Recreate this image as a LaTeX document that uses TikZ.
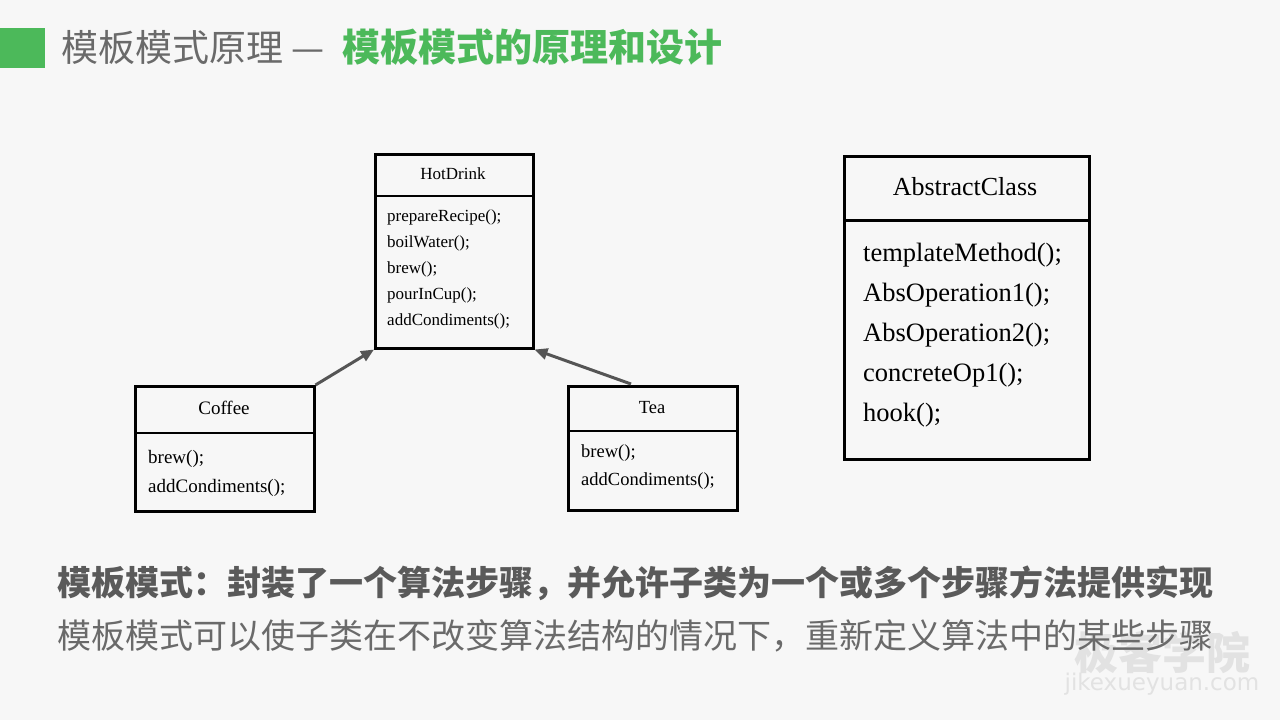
\documentclass[tikz,border=0pt]{standalone}
\usepackage{fontspec}
\setmainfont{Liberation Serif}
\newfontfamily\cjk{Noto Sans CJK SC}
\newfontfamily\wmfont{DejaVu Sans}
\usetikzlibrary{arrows.meta}
\definecolor{bg}{HTML}{F7F7F7}
\definecolor{brand}{HTML}{4CB95A}
\definecolor{titlegray}{HTML}{6A6A6A}
\definecolor{textgray}{HTML}{5A5A5A}
\definecolor{arrowgray}{HTML}{555555}
\definecolor{wmgray}{HTML}{E2E2E2}
\begin{document}
\begin{tikzpicture}[x=1pt,y=-1pt,
  umlbox/.style={draw=black, line width=2.5pt, anchor=north west, inner sep=0pt},
  divider/.style={draw=black, line width=2.5pt},
  member/.style={anchor=base west, inner sep=0pt},
  classname/.style={anchor=base, inner sep=0pt},
  inherit/.style={draw=arrowgray, line width=3pt, -{Triangle[length=13pt,width=11pt]}},
  wmtext/.style={inner sep=0pt, text=wmgray}
]
\useasboundingbox (0,0) rectangle (1280,720);
\fill[bg] (0,0) rectangle (1280,720);

% title
\fill[brand] (0,28) rectangle (45,68);
\node[anchor=west, inner sep=0pt, text=titlegray, font=\cjk\fontsize{37}{40}\selectfont] (t1) at (61,47) {模板模式原理 —};
\node[anchor=west, inner sep=0pt, text=brand, font=\cjk\bfseries\fontsize{38}{40}\selectfont] (t2) at (342,47) {模板模式的原理和设计};

% HotDrink
\node[umlbox, minimum width=158pt, minimum height=194pt] (hot) at (374,153) {};
\draw[divider] (hot.west |- 0,196) -- (hot.east |- 0,196);
\node[classname, font=\fontsize{17}{20}\selectfont] (hotT) at (453,179) {HotDrink};
\begin{scope}[every node/.style={member, font=\fontsize{17}{20}\selectfont}]
\node (h1) at (387,221) {prepareRecipe();};
\node (h2) at (387,247) {boilWater();};
\node (h3) at (387,273) {brew();};
\node (h4) at (387,299) {pourInCup();};
\node (h5) at (387,325) {addCondiments();};
\end{scope}

% Coffee
\node[umlbox, minimum width=179pt, minimum height=125pt] (coffee) at (134,385) {};
\draw[divider] (coffee.west |- 0,433) -- (coffee.east |- 0,433);
\node[classname, font=\fontsize{19}{22}\selectfont] (coffeeT) at (224,414) {Coffee};
\begin{scope}[every node/.style={member, font=\fontsize{19}{22}\selectfont}]
\node (c1) at (148,463) {brew();};
\node (c2) at (148,492) {addCondiments();};
\end{scope}

% Tea
\node[umlbox, minimum width=169pt, minimum height=124pt] (tea) at (567,385) {};
\draw[divider] (tea.west |- 0,431) -- (tea.east |- 0,431);
\node[classname, font=\fontsize{18.5}{22}\selectfont] (teaT) at (652,413) {Tea};
\begin{scope}[every node/.style={member, font=\fontsize{18.5}{22}\selectfont}]
\node (e1) at (581,457) {brew();};
\node (e2) at (581,485) {addCondiments();};
\end{scope}

% AbstractClass
\node[umlbox, line width=3pt, minimum width=245pt, minimum height=303pt] (abs) at (843,155) {};
\draw[divider, line width=3pt] (abs.west |- 0,220) -- (abs.east |- 0,220);
\node[classname, font=\fontsize{26}{30}\selectfont] (absT) at (965,195) {AbstractClass};
\begin{scope}[every node/.style={member, font=\fontsize{26.5}{30}\selectfont}]
\node (a1) at (863,261) {templateMethod();};
\node (a2) at (863,301) {AbsOperation1();};
\node (a3) at (863,341) {AbsOperation2();};
\node (a4) at (863,381) {concreteOp1();};
\node (a5) at (863,421) {hook();};
\end{scope}

% inheritance arrows
\coordinate (teaTop) at (631,384);
\draw[inherit] (coffee.north east) -- (hot.south west);
\draw[inherit] (teaTop) -- (hot.south east);

% watermark (under the text)
\node[wmtext, font=\cjk\bfseries\fontsize{44}{48}\selectfont] (wm1) at (1162,652) {极客学院};
\node[wmtext, font=\wmfont\fontsize{23}{26}\selectfont] (wm2) at (1162,684) {jikexueyuan.com};

% bottom text
\node[anchor=west, inner sep=0pt, text=textgray, font=\cjk\bfseries\fontsize{34}{40}\selectfont] (b1) at (57,583) {模板模式：封装了一个算法步骤，并允许子类为一个或多个步骤方法提供实现};
\node[anchor=west, inner sep=0pt, text=titlegray, font=\cjk\fontsize{34}{40}\selectfont] (b2) at (57,636) {模板模式可以使子类在不改变算法结构的情况下，重新定义算法中的某些步骤};
\end{tikzpicture}
\end{document}
